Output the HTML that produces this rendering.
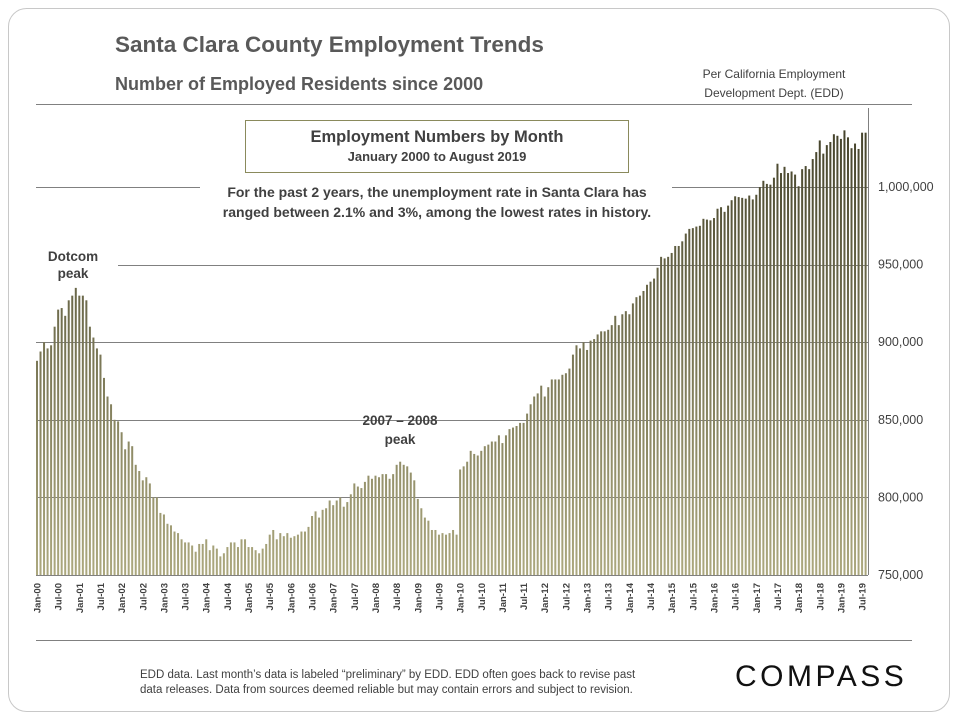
<!DOCTYPE html>
<html><head><meta charset="utf-8"><style>
body{margin:0;background:#fff;}
svg{display:block;font-family:"Liberation Sans",sans-serif;}
</style></head><body>
<svg id="chart" width="960" height="720" viewBox="0 0 960 720">
<defs>
<linearGradient id="barGrad" gradientUnits="userSpaceOnUse" x1="0" y1="130" x2="0" y2="575">
<stop offset="0" stop-color="#45432b"/><stop offset="1" stop-color="#aca87e"/>
</linearGradient>
</defs>
<rect x="8.5" y="8.5" width="941" height="703" rx="18" fill="#fff" stroke="#c8c8c8"/>
<text x="115" y="52" font-size="22.5" font-weight="bold" fill="#595959">Santa Clara County Employment Trends</text>
<text x="115" y="90" font-size="18" font-weight="bold" fill="#595959">Number of Employed Residents since 2000</text>
<text x="774" y="78" font-size="12" fill="#404040" text-anchor="middle">Per California Employment</text>
<text x="774" y="97" font-size="12" fill="#404040" text-anchor="middle">Development Dept. (EDD)</text>
<line x1="36" y1="104.5" x2="912" y2="104.5" stroke="#808080"/>
<g id="grid"></g>
<g id="bars"></g>
<g id="yticks"></g>
<g id="xticks"></g>
<line x1="868.5" y1="108" x2="868.5" y2="575" stroke="#808080"/>
<line x1="36" y1="575.5" x2="868" y2="575.5" stroke="#808080"/>
<rect x="245.5" y="120.5" width="383" height="52" fill="#fff" stroke="#8a8a5c"/>
<text x="437" y="142" font-size="16.5" font-weight="bold" fill="#404040" text-anchor="middle">Employment Numbers by Month</text>
<text x="437" y="161" font-size="13" font-weight="bold" fill="#404040" text-anchor="middle">January 2000 to August 2019</text>
<text x="437" y="197" font-size="14" font-weight="bold" fill="#404040" text-anchor="middle">For the past 2 years, the unemployment rate in Santa Clara has</text>
<text x="437" y="217" font-size="14" font-weight="bold" fill="#404040" text-anchor="middle">ranged between 2.1% and 3%, among the lowest rates in history.</text>
<text x="73" y="261" font-size="13.5" font-weight="bold" fill="#404040" text-anchor="middle">Dotcom</text>
<text x="73" y="278" font-size="13.5" font-weight="bold" fill="#404040" text-anchor="middle">peak</text>
<text x="400" y="425" font-size="13.5" font-weight="bold" fill="#404040" text-anchor="middle">2007 – 2008</text>
<text x="400" y="444" font-size="13.5" font-weight="bold" fill="#404040" text-anchor="middle">peak</text>
<line x1="36" y1="640.5" x2="912" y2="640.5" stroke="#808080"/>
<text x="140" y="678" font-size="11.5" fill="#404040">EDD data. Last month’s data is labeled “preliminary” by EDD. EDD often goes back to revise past</text>
<text x="140" y="693" font-size="11.5" fill="#404040">data releases. Data from sources deemed reliable but may contain errors and subject to revision.</text>
<text x="735" y="686" font-size="30" fill="#111" letter-spacing="3.5">COMPASS</text>
</svg>
<script>
const years = [2000,2001,2002,2003,2004,2005,2006,2007,2008,2009,2010,2011,2012,2013,2014,2015,2016,2017,2018,2019];
const employedThousands = [
888,894,900,896,898,910,921,922,917,927,930,935,
930,930,927,910,903,896,892,877,865,860,850,849,
842,831,836,833,821,817,811,813,809,800,800,790,
789,783,782,778,777,773,771,771,769,765,770,770,
773,766,769,767,762,764,768,771,771,768,773,773,
768,768,766,764,767,770,776,779,773,777,775,777,
774,775,776,778,778,781,788,791,787,792,793,798,
795,798,800,794,797,802,809,807,806,810,814,812,
814,813,815,815,812,815,821,823,821,820,816,811,
799,793,787,785,779,779,776,777,776,777,779,776,
818,820,823,830,828,827,830,833,834,836,836,840,
835,840,844,845,846,848,848,854,860,865,867,872,
865,871,876,876,876,879,880,883,892,898,896,900,
895,901,902,905,907,907,908,911,917,911,918,920,
918,925,929,930,933,937,939,941,948,955,954,955,
957.5,962,962,965,970,973,973.5,974.5,975,979.5,979,978.5,
980,986,987,984,988,991.5,994,993.5,993,992.5,994.5,992,
995,1000,1004,1002,1001.5,1006,1015,1009,1013,1009,1010,1008,
1000.5,1011.5,1013.5,1011.5,1018,1022.5,1030,1021.5,1027,1029,1034,1033,
1031,1036.5,1032,1025,1028,1024.5,1035,1035];
const yTicks = [750,800,850,900,950,1000];
const yTickLabels = ["750,000","800,000","850,000","900,000","950,000","1,000,000"];
const monthNames = ["Jan","Jul"];

const NS = "http://www.w3.org/2000/svg";
const X0 = 37, DX = 3.526;
function xScale(i){ return X0 + i*DX; }
function yScale(v){ return 575 - (v-750)/50*77.6; }
function mk(tag, attrs){ const e=document.createElementNS(NS,tag); for(const k in attrs) e.setAttribute(k,attrs[k]); return e; }

const grid = document.getElementById('grid');
yTicks.forEach((t,k)=>{
  if(t===750) return;
  const y = Math.round(yScale(t))+0.5;
  const segs = t===1000 ? [[36,200],[672,868]] : t===950 ? [[118,868]] : [[36,868]];
  segs.forEach(s=>{
    const l = mk('line',{x1:s[0],x2:s[1],y1:y,y2:y,stroke:'#808080'});
    
    
    grid.appendChild(l);
  });
});
const yg = document.getElementById('yticks');
yTicks.forEach((t,k)=>{
  const tx = mk('text',{x:878,y:yScale(t)+4,'font-size':12.5,fill:'#404040'});
  tx.textContent = yTickLabels[k];
  
  
  yg.appendChild(tx);
});
const bars = document.getElementById('bars');
employedThousands.forEach((v,i)=>{
  const x = xScale(i), y = yScale(v);
  const r = mk('rect',{x:(x-1).toFixed(2),y:y.toFixed(2),width:2,height:(575-y).toFixed(2),fill:'url(#barGrad)'});
  
  
  bars.appendChild(r);
});
const xg = document.getElementById('xticks');
for(let i=0;i<employedThousands.length;i+=6){
  const yr = years[Math.floor(i/12)];
  const lab = monthNames[(i%12)/6] + '-' + String(yr%100).padStart(2,'0');
  const x = xScale(i)+3.5;
  const tx = mk('text',{x:0,y:0,'font-size':9.5,'font-weight':'bold',fill:'#404040','text-anchor':'end',transform:`translate(${x.toFixed(1)},583) rotate(-90)`});
  tx.textContent = lab;
  
  
  xg.appendChild(tx);
}
</script>
</body></html>
